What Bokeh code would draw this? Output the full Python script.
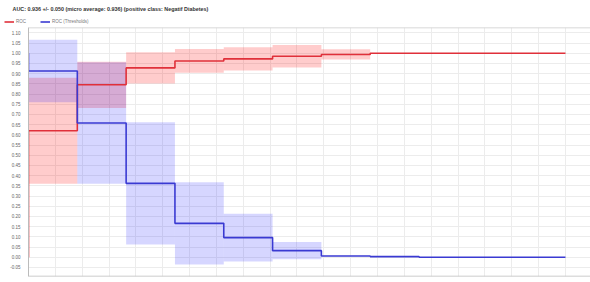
from bokeh.plotting import figure
from bokeh.layouts import column
from bokeh.models import (Range1d, FixedTicker, PrintfTickFormatter, Legend, LegendItem,
                          Span, ColumnDataSource, Label)
from bokeh.embed import file_html
from bokeh.resources import INLINE

title_text = "AUC: 0.936 +/- 0.050 (micro average: 0.936) (positive class: Negatif Diabetes)"
series_names = ["ROC", "ROC (Thresholds)"]

# ROC step curve (false positive rate, true positive rate)
roc_fpr = [0.0, 0.0, 1/11, 2/11, 3/11, 4/11, 5/11, 6/11, 7/11, 1.0]
roc_tpr = [0.0, 0.62, 0.845, 0.928, 0.962, 0.972, 0.985, 0.994, 1.0, 1.0]

# ROC (Thresholds) step curve
thr_fpr = [0.0, 0.0, 1/11, 2/11, 3/11, 4/11, 5/11, 6/11, 7/11, 8/11, 1.0]
thr_val = [1.0, 0.913, 0.658, 0.362, 0.166, 0.096, 0.032, 0.006, 0.003, 0.0, 0.0]

# per-step mean +/- std bands
band_left = [0/11, 1/11, 2/11, 3/11, 4/11, 5/11, 6/11]
band_right = [1/11, 2/11, 3/11, 4/11, 5/11, 6/11, 7/11]
roc_mean = [0.62, 0.845, 0.928, 0.962, 0.972, 0.985, 0.994]
roc_std = [0.26, 0.113, 0.077, 0.058, 0.057, 0.055, 0.025]
thr_mean = [0.913, 0.658, 0.362, 0.166, 0.096, 0.032]
thr_std = [0.153, 0.298, 0.30, 0.202, 0.117, 0.042]

y_ticks = [round(-0.05 + 0.05 * i, 2) for i in range(24)]
x_ticks = [round(0.05 * i, 2) for i in range(22)]

RED = "#e0303a"
BLUE = "#3a3ad2"
FONT = "Liberation Sans"

Y0, Y1 = -0.0946, 1.126

# ---------- header: title + legend ----------
# the header's ranges lie outside the data, so its lines only serve as legend swatches
h = figure(width=590, height=27, output_backend="svg", toolbar_location=None,
           x_range=Range1d(5, 6), y_range=Range1d(5, 6),
           x_axis_location=None, y_axis_location=None,
           min_border_left=0, min_border_right=0, min_border_top=0, min_border_bottom=0)
if "frame_align" in h.properties():
    h.frame_align = False
h.grid.visible = False
h.outline_line_color = None
h.add_layout(Label(x=12, y=19, x_units="screen", y_units="screen", text=title_text,
                   text_font=FONT, text_font_size="5.4px", text_font_style="bold",
                   text_color="#333333", text_baseline="middle", text_align="left"))
hr1 = h.line(roc_fpr, roc_tpr, line_color=RED, line_width=1.6)
hr2 = h.line(thr_fpr, thr_val, line_color=BLUE, line_width=1.6)
legend = Legend(items=[LegendItem(label=series_names[0], renderers=[hr1]),
                       LegendItem(label=series_names[1], renderers=[hr2])],
                orientation="horizontal", location=(4, 3))
legend.margin = 0
legend.padding = 2
legend.spacing = 4
legend.glyph_width = 10
legend.glyph_height = 5
legend.label_height = 5
legend.label_standoff = 2
legend.label_text_font = FONT
legend.label_text_font_size = "4.5px"
legend.label_text_color = "#777777"
legend.border_line_color = None
legend.background_fill_alpha = 0
h.add_layout(legend, "center")

# ---------- main plot ----------
p = figure(width=590, height=255, output_backend="svg", toolbar_location=None,
           x_range=Range1d(0.0, 1.0466), y_range=Range1d(Y0, Y1),
           min_border_left=28, min_border_right=0, min_border_top=0, min_border_bottom=6)
if "frame_align" in p.properties():
    p.frame_align = False

roc_band = ColumnDataSource(dict(left=band_left, right=band_right,
                                 bottom=[m - s for m, s in zip(roc_mean, roc_std)],
                                 top=[m + s for m, s in zip(roc_mean, roc_std)]))
thr_band = ColumnDataSource(dict(left=band_left[:len(thr_mean)], right=band_right[:len(thr_mean)],
                                 bottom=[m - s for m, s in zip(thr_mean, thr_std)],
                                 top=[m + s for m, s in zip(thr_mean, thr_std)]))
p.quad(left="left", right="right", bottom="bottom", top="top", source=roc_band,
       fill_color="#ff0000", fill_alpha=0.2, line_color=None)
p.quad(left="left", right="right", bottom="bottom", top="top", source=thr_band,
       fill_color="#0000ff", fill_alpha=0.16, line_color=None)

p.step(roc_fpr, roc_tpr, mode="after", line_color=RED, line_width=1.6)
p.step(thr_fpr, thr_val, mode="after", line_color=BLUE, line_width=1.6)

p.yaxis.ticker = FixedTicker(ticks=y_ticks)
p.yaxis.formatter = PrintfTickFormatter(format="%.2f")
p.yaxis.major_label_text_font = FONT
p.yaxis.major_label_text_font_size = "4.5px"
p.yaxis.major_label_text_color = "#666666"
p.yaxis.major_tick_out = 0
p.yaxis.major_tick_in = 0
p.yaxis.minor_tick_out = 0
p.yaxis.minor_tick_in = 0
p.yaxis.major_label_standoff = 8
p.yaxis.axis_line_color = "#bbbbbb"

p.xaxis.visible = False

p.xgrid.ticker = FixedTicker(ticks=x_ticks)
p.ygrid.ticker = FixedTicker(ticks=y_ticks)
p.xgrid.grid_line_color = "#ececec"
p.ygrid.grid_line_color = "#ececec"
p.outline_line_color = None
p.add_layout(Span(location=Y1, dimension="width", line_color="#cccccc", line_width=1.5))
p.add_layout(Span(location=Y0, dimension="width", line_color="#bbbbbb", line_width=1.5))

layout = column(h, p, spacing=0)
open("out.html", "w").write(file_html(layout, INLINE))
